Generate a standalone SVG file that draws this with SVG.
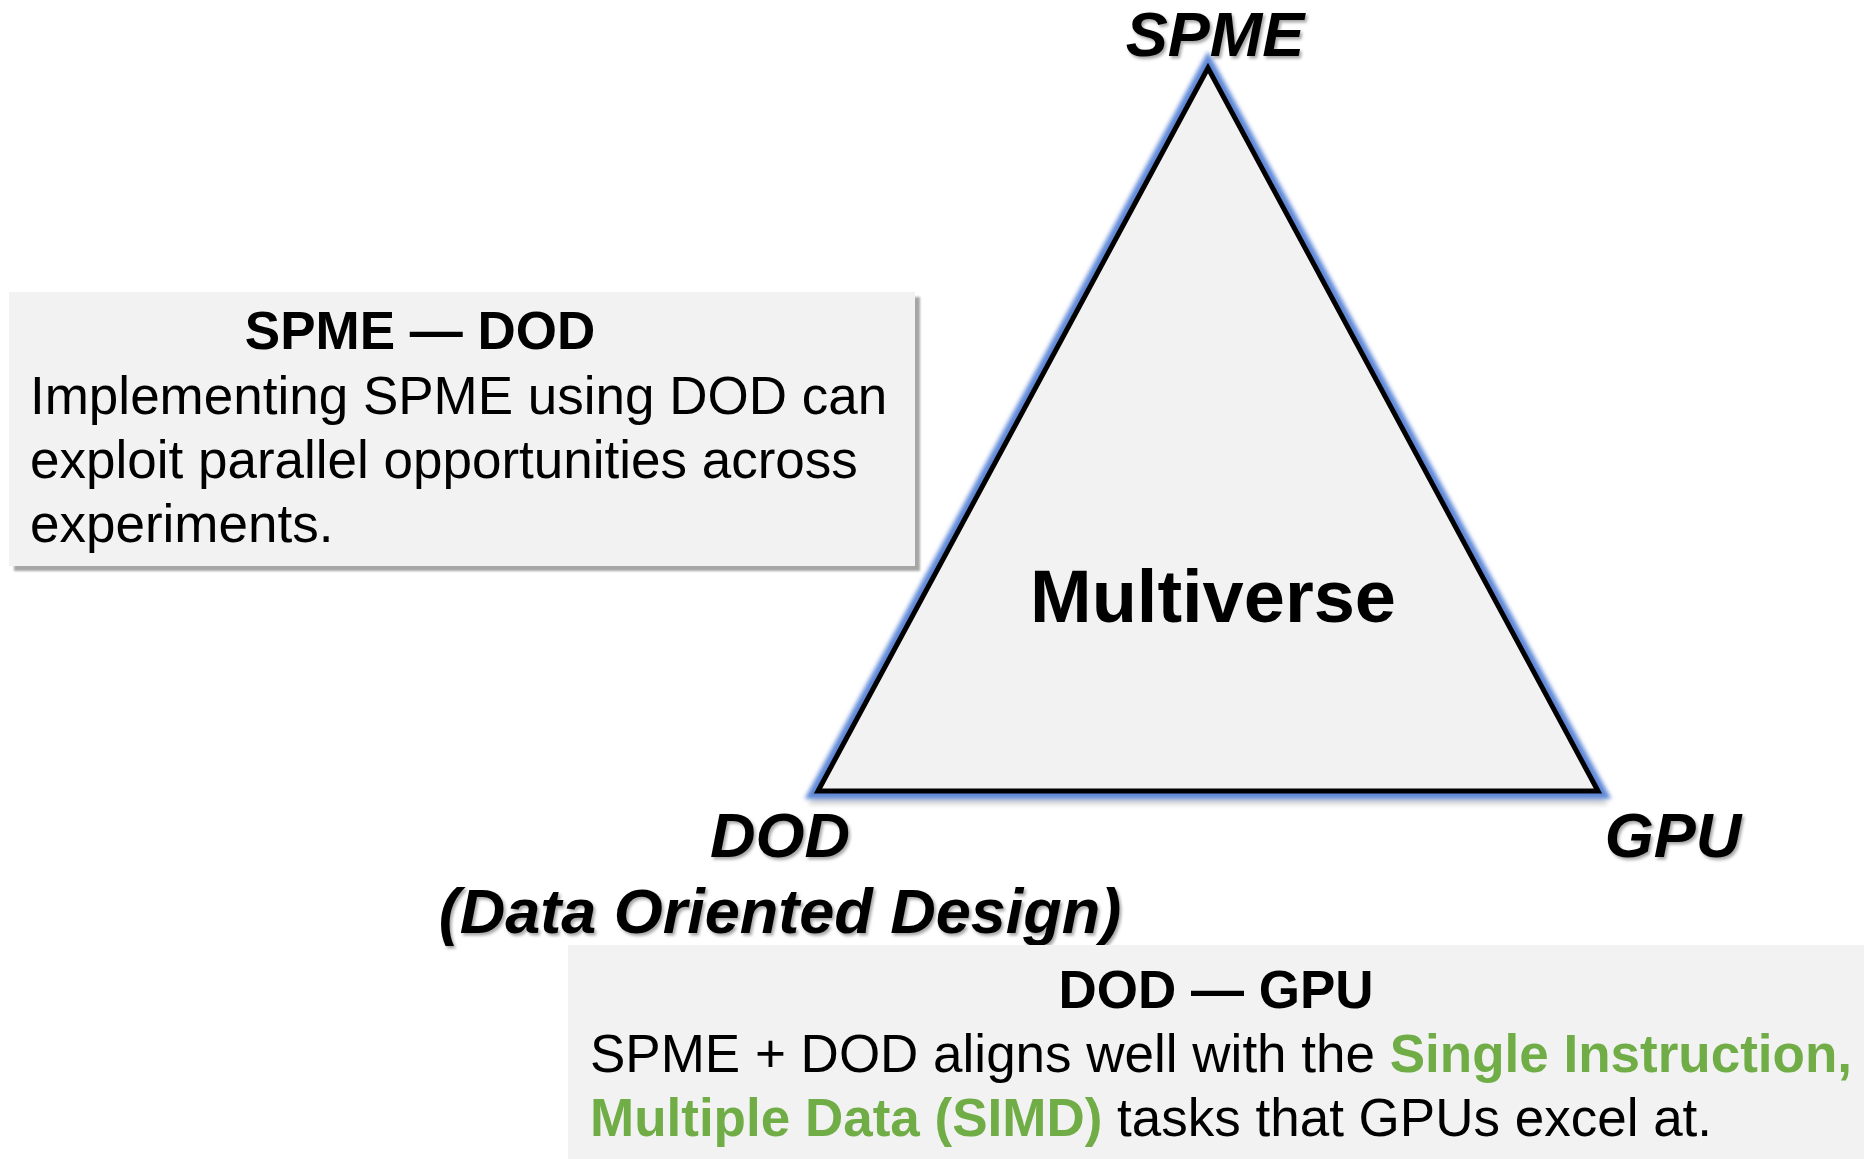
<svg xmlns="http://www.w3.org/2000/svg" width="1864" height="1159" viewBox="0 0 1864 1159">
  <defs>
    <style>
      .panel { fill: #f2f2f2; }
      .body { font-family: "Liberation Sans", Arial, sans-serif; font-size: 53px; fill: #000; }
      .head { font-family: "Liberation Sans", Arial, sans-serif; font-size: 53px; font-weight: bold; fill: #000; }
      .accent { font-weight: bold; fill: #70ad47; }
      .vertex { font-family: "Liberation Sans", Arial, sans-serif; font-size: 63px; font-weight: bold; font-style: italic; fill: #000; }
      .center { font-family: "Liberation Sans", Arial, sans-serif; font-size: 74px; font-weight: bold; fill: #000; }
    </style>
    <filter id="textShadow" x="-10%" y="-20%" width="120%" height="150%">
      <feDropShadow dx="2" dy="2.5" stdDeviation="1.5" flood-color="#000" flood-opacity="0.35"/>
    </filter>
    <filter id="soft" x="-10%" y="-10%" width="120%" height="120%">
      <feGaussianBlur stdDeviation="2"/>
    </filter>
    <filter id="boxShadow" x="-5%" y="-5%" width="110%" height="110%">
      <feGaussianBlur stdDeviation="1.2"/>
    </filter>
  </defs>

  <rect width="1864" height="1159" fill="#ffffff"/>

  <!-- central triangle with a blue outer glow and a soft shadow -->
  <g id="triangle">
    <polygon points="1208,76 818,799 1598,799" fill="none" stroke="#000" stroke-opacity="0.15" stroke-width="12" filter="url(#soft)"/>
    <polygon points="1208,68 818,791 1598,791" fill="none" stroke="#5f88d8" stroke-width="16" stroke-linejoin="miter" filter="url(#soft)"/>
    <polygon points="1208,68 818,791 1598,791" fill="#f2f2f2" stroke="#000" stroke-width="5" stroke-linejoin="miter"/>
    <text class="center" x="1213" y="622" text-anchor="middle">Multiverse</text>
  </g>

  <!-- vertex labels -->
  <g id="label-spme" filter="url(#textShadow)">
    <text class="vertex" x="1215" y="56" text-anchor="middle">SPME</text>
  </g>
  <g id="label-dod" filter="url(#textShadow)">
    <text class="vertex" x="780" y="857" text-anchor="middle">DOD</text>
    <text class="vertex" x="780" y="933" text-anchor="middle">(Data Oriented Design)</text>
  </g>
  <g id="label-gpu" filter="url(#textShadow)">
    <text class="vertex" x="1673" y="857" text-anchor="middle">GPU</text>
  </g>

  <!-- SPME — DOD note -->
  <g id="note-spme-dod">
    <rect x="14" y="297" width="906" height="274" fill="#a6a6a6" filter="url(#boxShadow)"/>
    <rect class="panel" x="9" y="292" width="906" height="274"/>
    <text class="head" x="420" y="349" text-anchor="middle">SPME — DOD</text>
    <text class="body" x="30" y="414">Implementing SPME using DOD can</text>
    <text class="body" x="30" y="478">exploit parallel opportunities across</text>
    <text class="body" x="30" y="542">experiments.</text>
  </g>

  <!-- DOD — GPU note -->
  <g id="note-dod-gpu">
    <rect class="panel" x="568" y="945" width="1296" height="214"/>
    <text class="head" x="1216" y="1008" text-anchor="middle">DOD — GPU</text>
    <text class="body" x="590" y="1072">SPME + DOD aligns well with the <tspan class="accent">Single Instruction,</tspan></text>
    <text class="body" x="590" y="1136"><tspan class="accent">Multiple Data (SIMD)</tspan> tasks that GPUs excel at.</text>
  </g>

  <g id="connectors"/>
</svg>
